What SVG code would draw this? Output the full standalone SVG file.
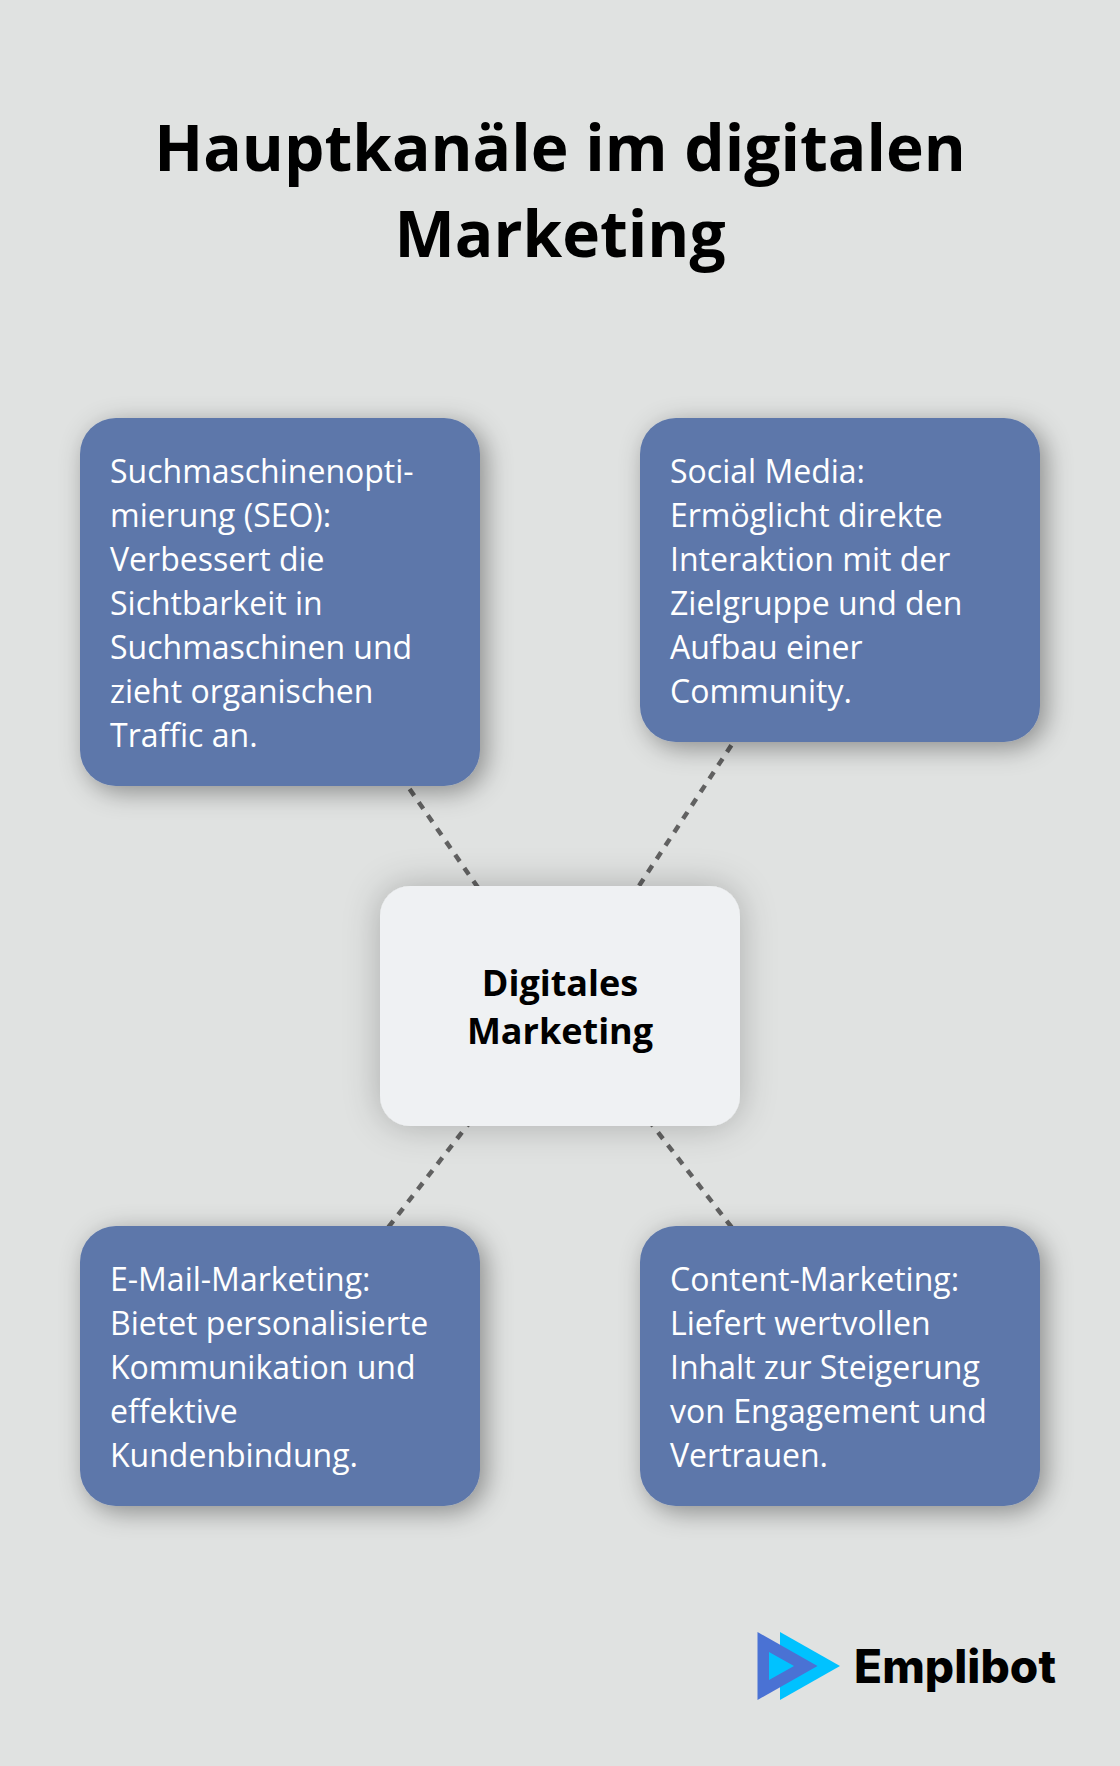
<svg xmlns="http://www.w3.org/2000/svg" width="1120" height="1766" viewBox="0 0 1120 1766">
<defs>
<style>
.box{fill:#5d77aa;filter:url(#sh)}
.ctr{fill:#eff1f3;filter:url(#sh2)}
.t{font-family:"Open Sans",sans-serif;font-size:32px;fill:#ffffff}
.b{font-family:"Open Sans",sans-serif;font-weight:700;fill:#000000;text-anchor:middle}
.c{fill:none;stroke:#616161;stroke-width:4.5;stroke-dasharray:8 8}
</style>
<filter id="sh" x="-20%" y="-20%" width="140%" height="140%"><feDropShadow dx="6" dy="6" stdDeviation="13" flood-color="#000" flood-opacity=".38"/></filter>
<filter id="sh2" x="-20%" y="-20%" width="140%" height="140%"><feDropShadow dx="0" dy="0" stdDeviation="18" flood-color="#000" flood-opacity=".24"/></filter>
</defs>
<rect width="1120" height="1766" fill="#e0e2e1"/>
<g id="title"><text class="b" x="560" y="170.5" font-size="64">Hauptkanäle im digitalen</text><text class="b" x="560" y="256.5" font-size="64">Marketing</text></g>
<g id="connectors">
<line class="c" x1="560" y1="1006" x2="280" y2="602"/>
<line class="c" x1="560" y1="1006" x2="840" y2="580"/>
<line class="c" x1="560" y1="1006" x2="280" y2="1367"/>
<line class="c" x1="560" y1="1006" x2="840" y2="1367"/>
</g>
<g id="node-seo"><rect class="box" x="80" y="418" width="400" height="368" rx="36"/>
<text class="t"><tspan x="110" y="482.5">Suchmaschinenopti-</tspan><tspan x="110" y="526.5">mierung (SEO):</tspan><tspan x="110" y="570.5">Verbessert die</tspan><tspan x="110" y="614.5">Sichtbarkeit in</tspan><tspan x="110" y="658.5">Suchmaschinen und</tspan><tspan x="110" y="702.5">zieht organischen</tspan><tspan x="110" y="746.5">Traffic an.</tspan></text></g>
<g id="node-social"><rect class="box" x="640" y="418" width="400" height="324" rx="36"/>
<text class="t"><tspan x="670" y="482.5">Social Media:</tspan><tspan x="670" y="526.5">Ermöglicht direkte</tspan><tspan x="670" y="570.5">Interaktion mit der</tspan><tspan x="670" y="614.5">Zielgruppe und den</tspan><tspan x="670" y="658.5">Aufbau einer</tspan><tspan x="670" y="702.5">Community.</tspan></text></g>
<g id="node-center"><rect class="ctr" x="380" y="886" width="360" height="240" rx="30"/>
<text class="b" x="560" y="996" font-size="36">Digitales</text><text class="b" x="560" y="1044" font-size="36">Marketing</text></g>
<g id="node-email"><rect class="box" x="80" y="1226" width="400" height="280" rx="36"/>
<text class="t"><tspan x="110" y="1291">E-Mail-Marketing:</tspan><tspan x="110" y="1335">Bietet personalisierte</tspan><tspan x="110" y="1379">Kommunikation und</tspan><tspan x="110" y="1423">effektive</tspan><tspan x="110" y="1467">Kundenbindung.</tspan></text></g>
<g id="node-content"><rect class="box" x="640" y="1226" width="400" height="280" rx="36"/>
<text class="t"><tspan x="670" y="1291">Content-Marketing:</tspan><tspan x="670" y="1335">Liefert wertvollen</tspan><tspan x="670" y="1379">Inhalt zur Steigerung</tspan><tspan x="670" y="1423">von Engagement und</tspan><tspan x="670" y="1467">Vertrauen.</tspan></text></g>
<g id="logo">
<polygon points="780,1632 840,1666 780,1700" fill="#00c2ff"/>
<polygon points="757.5,1632 817.5,1666 757.5,1700" fill="#4a72d4"/>
<polygon points="769,1652 794,1666 769,1680" fill="#00c2ff"/>
<text x="854" y="1683" font-family="Inter,sans-serif" font-weight="800" font-size="46" fill="#000" textLength="202" lengthAdjust="spacing">Emplibot</text>
</g>
</svg>
